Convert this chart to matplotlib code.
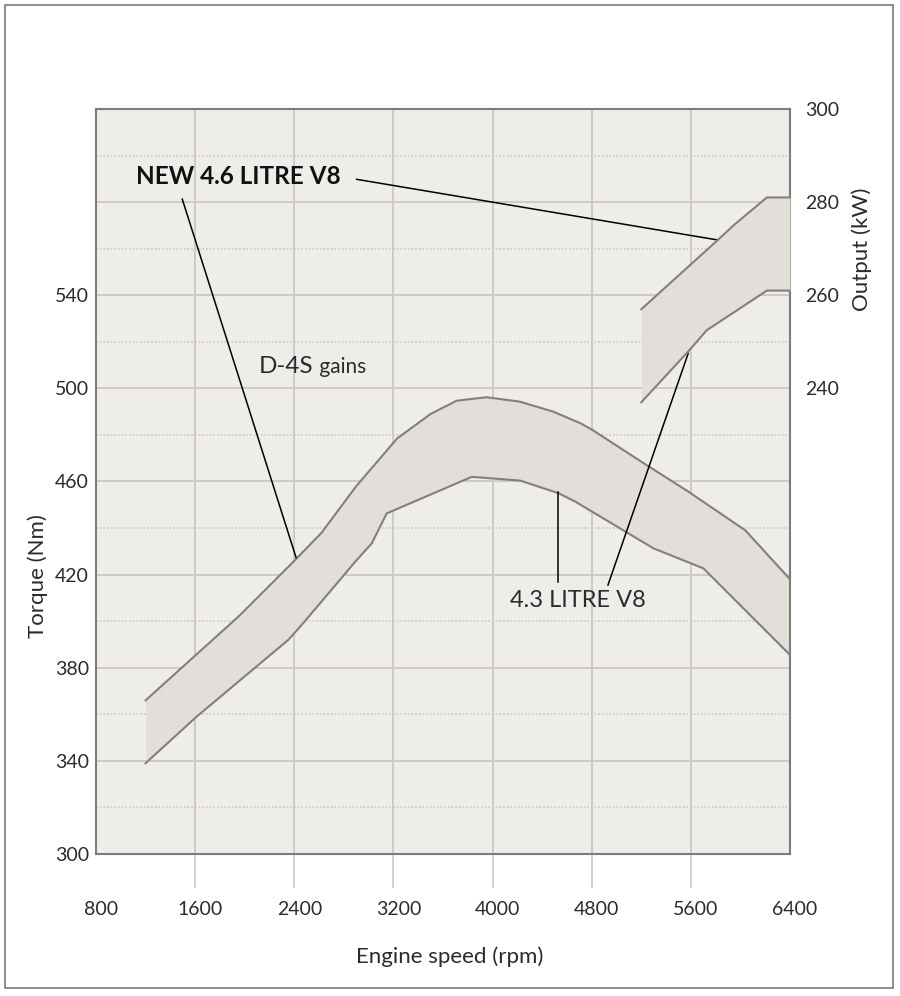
import matplotlib
matplotlib.use("Agg")
import matplotlib.pyplot as plt
import numpy as np
from matplotlib.patches import Rectangle
from matplotlib.transforms import ScaledTranslation

plt.rcParams['font.family'] = ['Lato', 'DejaVu Sans']

# ---- data ----
RPM_TICKS = [800, 1600, 2400, 3200, 4000, 4800, 5600, 6400]
TORQUE_GRID = [300, 340, 380, 420, 460, 500, 540, 580, 620]
TORQUE_LABELS = [300, 340, 380, 420, 460, 500, 540]
TORQUE_MINOR = [320, 360, 400, 440, 480, 520, 560, 600]
KW_TICKS = [240, 260, 280, 300]

# torque, new 4.6 litre V8 (upper edge of band)
RPM_46 = [1200, 1950, 2420, 2620, 2900, 3230, 3500, 3710, 3950, 4220, 4490, 4710, 4810, 5215, 5570, 6040, 6400]
TQ_46 = [366, 402, 427, 438, 458, 478.5, 489, 494.7, 496.2, 494.3, 490, 485, 482, 468, 456, 439, 418]
# torque, 4.3 litre V8 (lower edge of band)
RPM_43 = [1200, 1612, 2352, 2460, 2904, 3025, 3146, 3832, 4222, 4531, 4666, 5298, 5701, 6400]
TQ_43 = [339, 359, 392, 398.4, 426.3, 433.4, 446.3, 462, 460.4, 455, 451.4, 431.3, 422.7, 385.5]

# output (kW)
PRPM_46 = [5200, 5823, 5944, 6213, 6400]
KW_46 = [257, 272, 275, 281, 281]
PRPM_43 = [5200, 5581, 5729, 6213, 6400]
KW_43 = [237, 248, 252.5, 261, 261]

# ---- style ----
BG = '#efedea'
FILL = '#e2deda'
CURVE = '#847f7c'
GRID = '#cac7c4'
SPINE = '#7f7b79'
TXT = '#2b2b2b'

fig = plt.figure(figsize=(9, 9.96), dpi=100)
ax = fig.add_axes([96/900, 1-854/996, 694/900, 745/996])
ax.set_facecolor(BG)
ax.set_xlim(800, 6400)
ax.set_ylim(300, 620)

ax2 = ax.twinx()
ax2.set_ylim(140, 300)

# torque band
xs = np.union1d(RPM_46, RPM_43)
ax.fill_between(xs, np.interp(xs, RPM_43, TQ_43), np.interp(xs, RPM_46, TQ_46),
                color=FILL, lw=0, zorder=2)
ax.plot(RPM_46, TQ_46, color=CURVE, lw=1.5, zorder=3, solid_joinstyle='round')
ax.plot(RPM_43, TQ_43, color=CURVE, lw=1.5, zorder=3, solid_joinstyle='round')

# output band
px = np.union1d(PRPM_46, PRPM_43)
ax2.fill_between(px, np.interp(px, PRPM_43, KW_43), np.interp(px, PRPM_46, KW_46),
                 color=FILL, lw=0, zorder=2)
ax2.plot(PRPM_46, KW_46, color=CURVE, lw=1.5, zorder=3)
ax2.plot(PRPM_43, KW_43, color=CURVE, lw=1.5, zorder=3)

# grid
ax.set_axisbelow(True)
ax.set_yticks(TORQUE_GRID)
ax.set_yticklabels([str(v) if v in TORQUE_LABELS else '' for v in TORQUE_GRID])
ax.set_yticks(TORQUE_MINOR, minor=True)
ax.grid(which='major', axis='y', color=GRID, lw=1.3)
ax.grid(which='minor', axis='y', color=GRID, lw=1.2, linestyle=(0, (1, 1.2)))
ax.grid(which='major', axis='x', color=GRID, lw=1.3)
ax.set_xticks(RPM_TICKS)
ax.set_xticklabels([str(v) for v in RPM_TICKS])

ax.tick_params(axis='y', which='both', length=0, pad=5, labelsize=14, labelcolor=TXT)
ax.tick_params(axis='x', which='major', length=24.5, width=1.2, color=GRID,
               direction='out', pad=9, labelsize=14, labelcolor=TXT)
xt = ax.xaxis.get_major_ticks()
xt[0].tick1line.set_visible(False)
xt[-1].tick1line.set_visible(False)
off = ScaledTranslation(5/100, 0, fig.dpi_scale_trans)
for lab in ax.get_xticklabels():
    lab.set_transform(lab.get_transform() + off)

ax2.set_yticks(KW_TICKS)
ax2.tick_params(axis='y', length=0, pad=11, labelsize=14, labelcolor=TXT)

for s in ax.spines.values():
    s.set_color(SPINE)
    s.set_linewidth(1.5)
for s in ax2.spines.values():
    s.set_visible(False)

# axis labels
ax.set_xlabel('Engine speed (rpm)', fontsize=16, color=TXT, va='center')
ax.xaxis.set_label_coords(0.51, -0.138)
ax.set_ylabel('Torque (Nm)', fontsize=16, color=TXT, va='center')
ax.yaxis.set_label_coords(-0.084, 0.373)
ax2.set_ylabel('Output (kW)', fontsize=16, color=TXT, va='center', rotation=90)
ax2.yaxis.set_label_coords(1.104, 0.812)

# annotations
ax.text(1120, 591, 'NEW 4.6 LITRE V8', fontsize=17.5, fontweight='bold', color='#111111',
        ha='left', va='center', zorder=5)
ax.plot([2903, 5821], [589.8, 563.7], color='black', lw=1.1, zorder=5)
ax.plot([1496, 2414], [581.3, 427.4], color='black', lw=1.1, zorder=5)
t = ax.text(2115, 506.6, 'D-4S', fontsize=17.5, color=TXT, ha='left', va='baseline', zorder=5)
ax.annotate(' gains', xy=(1, 506.6), xycoords=(t, 'data'), fontsize=15, color=TXT,
            ha='left', va='baseline', zorder=5)
ax.text(4141, 408.7, '4.3 LITRE V8', fontsize=17, color=TXT, ha='left', va='center', zorder=5)
ax.plot([4528, 4528], [455.5, 416.8], color='black', lw=1.1, zorder=5)
ax.plot([4931, 5579], [415.5, 515.1], color='black', lw=1.1, zorder=5)

# outer frame
fig.patches.append(Rectangle((4.5/900, 1-988/996), (893-4.5)/900, (988-5)/996,
                             transform=fig.transFigure, fill=False,
                             edgecolor='#7a7a7a', lw=1.2))

fig.savefig('out.png', dpi=100, facecolor='white')
